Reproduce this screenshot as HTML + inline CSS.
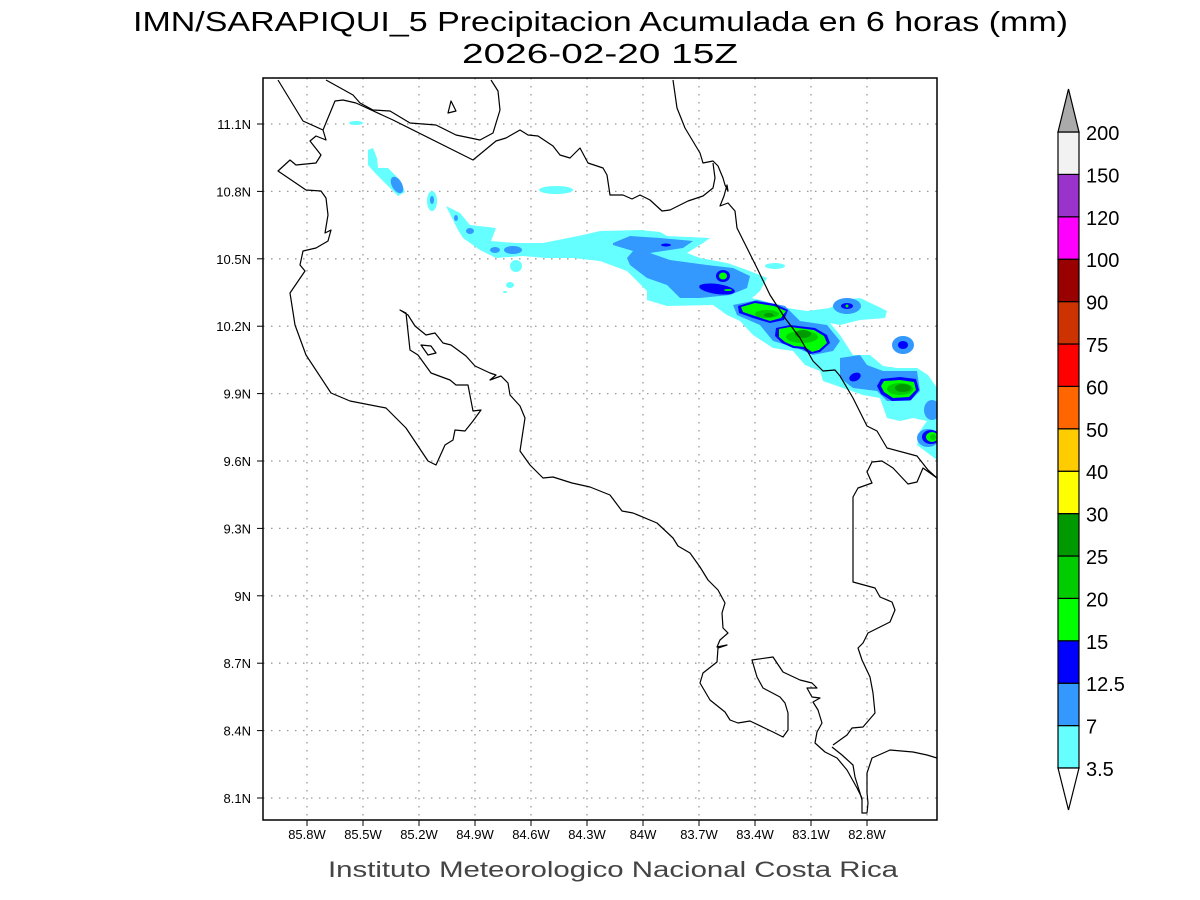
<!DOCTYPE html>
<html><head><meta charset="utf-8"><style>
html,body{margin:0;padding:0;background:#fff;}
svg{display:block;font-family:"Liberation Sans",sans-serif;}
</style></head><body>
<svg id="map" width="1200" height="900" viewBox="0 0 1200 900" xmlns="http://www.w3.org/2000/svg">
<text x="133" y="31" font-size="28" textLength="935" lengthAdjust="spacingAndGlyphs" fill="#000">IMN/SARAPIQUI_5 Precipitacion Acumulada en 6 horas (mm)</text>
<text x="462" y="63" font-size="28" textLength="276" lengthAdjust="spacingAndGlyphs" fill="#000">2026-02-20 15Z</text>
<text x="328" y="877" font-size="22" textLength="570" lengthAdjust="spacingAndGlyphs" fill="#444">Instituto Meteorologico Nacional Costa Rica</text>
<defs><clipPath id="pc"><rect x="263" y="78" width="674" height="742"/></clipPath></defs>
<g id="grid"></g>
<g id="precip" clip-path="url(#pc)">
 <g fill="#66ffff">
  <polygon points="446,206 460,213 470,225 496,228 491,241 516,243 543,243 583,235 600,231 640,230 660,232 667,236 710,238 703,243 687,253 700,258 727,263 747,270 767,278 760,291 752,298 760,300 787,308 807,311 830,308 843,300 860,298 877,306 887,311 885,318 860,320 840,325 830,323 840,335 853,355 870,355 883,366 897,368 917,368 928,375 937,388 937,460 917,445 920,431 927,421 913,418 900,421 887,418 880,398 863,395 843,388 823,381 820,371 805,365 793,351 773,348 753,335 740,321 727,315 713,305 667,306 647,300 647,291 627,271 600,261 573,258 546,258 523,256 496,258 480,250 463,238 458,230 453,220"/>
  <ellipse cx="356" cy="123" rx="7" ry="2"/>
  <polygon points="368,150 373,148 377,158 378,168 388,168 400,180 405,192 398,196 388,186 375,173 368,165"/>
  <ellipse cx="432" cy="201" rx="5" ry="10"/>
  <ellipse cx="556" cy="190" rx="17" ry="4"/>
  <ellipse cx="516" cy="266" rx="6" ry="6"/>
  <ellipse cx="510" cy="285" rx="4" ry="3"/>
  <ellipse cx="505" cy="292" rx="2" ry="1"/>
  <ellipse cx="775" cy="266" rx="10" ry="3"/>
 </g>
 <g fill="#3399ff">
  <ellipse cx="397" cy="185" rx="5" ry="9" transform="rotate(-30 397 185)"/>
  <ellipse cx="432" cy="200" rx="2" ry="4"/>
  <ellipse cx="470" cy="231" rx="4" ry="3"/>
  <ellipse cx="495" cy="250" rx="5" ry="3"/>
  <ellipse cx="513" cy="250" rx="9" ry="4"/>
  <ellipse cx="456" cy="218" rx="2" ry="3"/>
  <polygon points="613,243 630,236 660,238 693,241 683,248 650,253 670,260 707,265 733,268 750,276 747,288 730,295 700,298 680,298 667,285 647,278 630,265 627,258 633,251 613,245"/>
  <polygon points="733,305 757,300 785,306 800,321 827,325 840,341 833,351 813,355 797,348 773,341 760,325 737,315"/>
  <polygon points="840,358 860,355 867,365 883,371 917,371 920,391 910,401 887,401 877,391 853,388 840,378"/>
  <ellipse cx="847" cy="306" rx="14" ry="8"/>
  <ellipse cx="903" cy="345" rx="11" ry="9"/>
  <ellipse cx="932" cy="410" rx="8" ry="10"/>
  <ellipse cx="928" cy="438" rx="11" ry="9"/>
 </g>
 <g fill="#0000ff">
  <ellipse cx="666" cy="245" rx="5" ry="1.5"/>
  <ellipse cx="717" cy="289" rx="18" ry="5" transform="rotate(8 717 289)"/>
  <ellipse cx="723" cy="276" rx="7" ry="6"/>
  <polygon points="738,306 755,301 775,304 788,310 784,320 770,323 753,318 739,313"/>
  <polygon points="776,328 790,325 815,328 827,335 830,343 820,352 810,354 803,349 793,348 782,343 775,336"/>
  <polygon points="881,379 900,377 916,379 919,390 911,400 892,401 881,394 877,386"/>
  <ellipse cx="855" cy="377" rx="6" ry="4" transform="rotate(-25 855 377)"/>
  <ellipse cx="903" cy="345" rx="5" ry="4"/>
  <ellipse cx="847" cy="306" rx="6" ry="3"/>
  <ellipse cx="931" cy="437" rx="9" ry="7"/>
 </g>
 <g fill="#00ff00">
  <ellipse cx="723" cy="276" rx="4" ry="3.5"/>
  <ellipse cx="728" cy="290" rx="4" ry="1"/>
  <polygon points="741,307 755,303 774,306 786,311 781,318 770,321 755,316 743,312"/>
  <polygon points="779,329 790,327 814,330 824,336 827,343 819,350 812,352 805,347 794,346 785,342 779,337"/>
  <polygon points="884,381 900,380 914,382 916,390 909,397 893,398 884,392 881,386"/>
  <ellipse cx="932" cy="437" rx="6" ry="5"/>
  <ellipse cx="847" cy="306" rx="1.5" ry="1.5"/>
 </g>
 <g fill="#00cc00">
  <ellipse cx="767" cy="314" rx="12" ry="4"/>
  <ellipse cx="802" cy="337" rx="16" ry="6"/>
  <ellipse cx="900" cy="389" rx="13" ry="6"/>
  <ellipse cx="933" cy="437" rx="3" ry="3"/>
 </g>
 <g fill="#009900">
  <ellipse cx="769" cy="315" rx="5" ry="2"/>
  <ellipse cx="803" cy="334" rx="8" ry="4"/>
  <ellipse cx="903" cy="388" rx="8" ry="4"/>
 </g>
</g>
<g fill="none" stroke="#000" stroke-width="1.2" stroke-linejoin="round" clip-path="url(#pc)">
 <polyline points="278,80 303,121 323,130 326,140 316,136 310,141 321,155 316,163 296,165 290,160 278,171 306,190 321,191 326,198 328,215 325,233 331,230 328,241 316,248 303,251 300,265 305,271 290,293 295,325 306,355 331,393 350,401 386,408 406,428 428,461 436,465 445,445 453,440 455,430 465,431 473,421 481,410 473,411 468,385 456,385 450,380 431,373 418,355 410,350 406,313 400,310 408,315 415,326 426,335 435,333 443,343 451,345 466,356 475,366 490,373 496,375 490,380 501,376 508,383 510,395 520,406 525,418 523,431 520,451 530,465 543,478 553,477 572,483 590,487 610,495 622,511 633,513 657,523 673,538 678,546 690,553 700,567 708,580 718,590 725,603 722,613 723,628 728,633 720,640 717,647 727,645 718,648 717,662 703,673 700,683 710,700 725,712 730,720 738,723 750,721 773,732 783,737 788,730 788,713 785,703 780,697 763,688 757,677 752,660 773,657 783,672 800,680 812,683 817,688 807,688 812,697 820,698 813,702 818,710 822,723 817,732 815,743 825,752 837,758 847,770 857,788 862,798 862,813 867,813 868,803 867,793 867,773 872,758 890,750 913,752 927,755 937,758"/>
 <polyline points="832,747 842,755 853,765 855,777 860,793 862,800"/>
 <polyline points="833,745 847,735 852,728 863,727 875,713 873,693 870,677 862,660 858,648 863,643 868,633 890,622 895,610 892,602 880,597 875,588 853,582 853,497 858,488 872,483 867,472 872,462 882,461 893,468 908,484 917,482 923,468 937,478"/>
 <polyline points="673,80 677,108 685,128 700,153 703,163 713,161 718,166 723,178 725,185 728,191 727,185 724,196 720,206 728,203 735,211 737,228 747,248 757,268 770,295 785,318 800,338 813,361 823,371 835,370 840,376 853,398 867,426 877,431 887,448 917,456 928,470 937,478"/>
 <polyline points="323,130 335,101 343,100 356,103 393,120 473,160 496,141 506,138 520,130 528,135 538,136 553,146 560,155 570,158 580,148 588,163 603,168 607,175 610,195 623,195 632,199 640,195 650,200 662,211 670,210 688,201 703,196 713,188 715,178 713,163"/>
 <polyline points="326,80 353,95 360,103 373,110 390,111 410,123 436,125 456,135 480,140 493,133 500,110 498,91 491,80"/>
 <polygon points="448,113 451,101 456,111"/>
 <polygon points="421,345 431,346 436,353 428,355"/>
</g>
<rect x="263" y="78" width="674" height="742" fill="none" stroke="#000" stroke-width="1.5"/>
<g id="axes" font-size="13" fill="#000"></g>
<g id="cbar"></g>
</svg>
<script>
const lonTicks = [-85.8,-85.5,-85.2,-84.9,-84.6,-84.3,-84.0,-83.7,-83.4,-83.1,-82.8];
const latTicks = [11.1,10.8,10.5,10.2,9.9,9.6,9.3,9.0,8.7,8.4,8.1];
const lonLabels = ["85.8W","85.5W","85.2W","84.9W","84.6W","84.3W","84W","83.7W","83.4W","83.1W","82.8W"];
const latLabels = ["11.1N","10.8N","10.5N","10.2N","9.9N","9.6N","9.3N","9N","8.7N","8.4N","8.1N"];
const levels = ["3.5","7","12.5","15","20","25","30","40","50","60","75","90","100","120","150","200"];
const levelColors = ["#66ffff","#3399ff","#0000ff","#00ff00","#00cc00","#009900","#ffff00","#ffcc00","#ff6600","#ff0000","#cc3300","#990000","#ff00ff","#9933cc","#f2f2f2"];

const NS="http://www.w3.org/2000/svg";
const xOf = lon => 307 + (lon + 85.8) * (560/3.0);
const yOf = lat => 798 - (lat - 8.1) * (674/3.0);
function mk(tag, attrs, parent){const e=document.createElementNS(NS,tag);for(const k in attrs)e.setAttribute(k,attrs[k]);parent.appendChild(e);return e;}
const grid=document.getElementById('grid'), axes=document.getElementById('axes'), cbar=document.getElementById('cbar');
lonTicks.forEach((lon,i)=>{
  const x=xOf(lon);
  const l=mk('line',{x1:x,y1:78,x2:x,y2:820,stroke:'#999','stroke-width':1.3,'stroke-dasharray':'1.5,6.5'},grid);
  
  
  const tk=mk('line',{x1:x,y1:820,x2:x,y2:826,stroke:'#000'},axes);
  
  
  const t=mk('text',{x:x,y:839,'text-anchor':'middle'},axes);
  t.textContent=lonLabels[i];
  
  
});
latTicks.forEach((lat,i)=>{
  const y=yOf(lat);
  const l=mk('line',{x1:263,y1:y,x2:937,y2:y,stroke:'#999','stroke-width':1.3,'stroke-dasharray':'1.5,6.5'},grid);
  
  
  const tk=mk('line',{x1:257,y1:y,x2:263,y2:y,stroke:'#000'},axes);
  
  
  const t=mk('text',{x:251,y:y+5,'text-anchor':'end'},axes);
  t.textContent=latLabels[i];
  
  
});
// colorbar
const cbX=1058, cbW=21, cbTop=132, cbBot=768;
const n=levelColors.length, h=(cbBot-cbTop)/n;
const yLev = i => cbBot - i*h;
levelColors.forEach((c,i)=>{
  const r=mk('rect',{x:cbX,y:yLev(i+1),width:cbW,height:h,fill:c,stroke:'#000','stroke-width':1.2},cbar);
  
  
});
const tu=mk('polygon',{points:`${cbX},${cbTop} ${cbX+cbW},${cbTop} ${cbX+cbW/2},89`,fill:'#aaaaaa',stroke:'#000','stroke-width':1.2},cbar);


const td=mk('polygon',{points:`${cbX},${cbBot} ${cbX+cbW},${cbBot} ${cbX+cbW/2},810`,fill:'#ffffff',stroke:'#000','stroke-width':1.2},cbar);


levels.forEach((lv,i)=>{
  const t=mk('text',{x:1086,y:yLev(i)+8,'font-size':20,fill:'#000'},cbar);
  t.textContent=lv;
  
  
});
</script>
</body></html>
